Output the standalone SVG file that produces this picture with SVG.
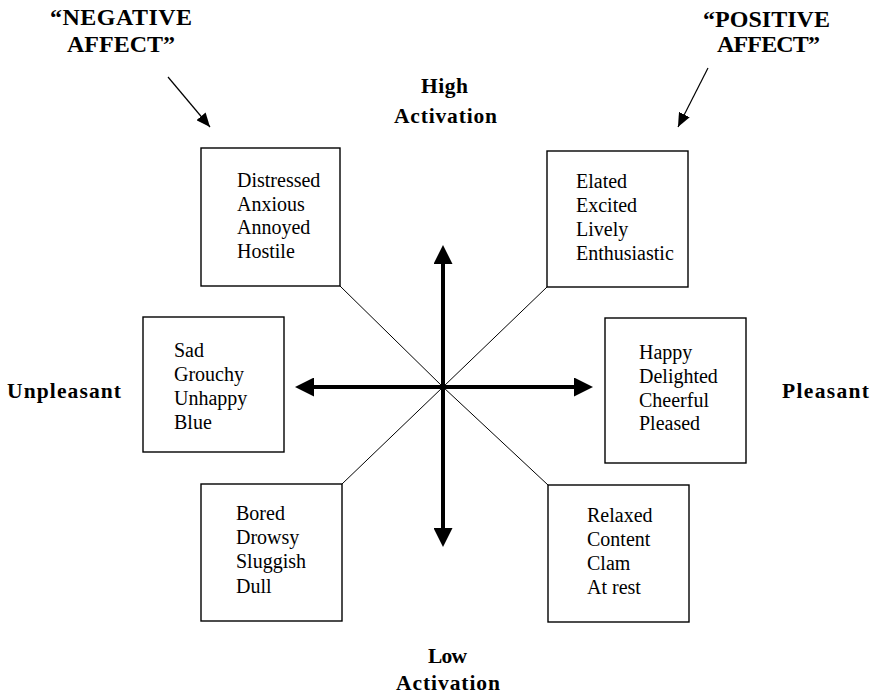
<svg xmlns="http://www.w3.org/2000/svg" width="878" height="698" viewBox="0 0 878 698">
<style>
.box{fill:#fff;stroke:#000;stroke-width:1.4}
.t{font-family:"Liberation Serif","Times New Roman",serif;font-size:20px;fill:#000}
.b{font-family:"Liberation Serif","Times New Roman",serif;font-size:21.5px;font-weight:bold;fill:#000}
.q{font-family:"Liberation Serif","Times New Roman",serif;font-size:24px;font-weight:bold;fill:#000}
.axis{stroke:#000;stroke-width:4;fill:none}
.diag{stroke:#000;stroke-width:1;fill:none}
.ptr{stroke:#000;stroke-width:1.2;fill:none}
</style>
<defs>
<marker id="big" viewBox="0 0 19 19" refX="0" refY="9.5" markerWidth="19" markerHeight="19" markerUnits="userSpaceOnUse" orient="auto">
<path d="M0,0 L19,9.5 L0,19 Z" fill="#000"/>
</marker>
<marker id="small" viewBox="0 0 14 12" refX="14" refY="6" markerWidth="14" markerHeight="12" markerUnits="userSpaceOnUse" orient="auto">
<path d="M0,0 L14,6 L0,12 Z" fill="#000"/>
</marker>
</defs>
<rect width="878" height="698" fill="#fff"/>

<g id="connectors">
<line class="diag" x1="340" y1="286" x2="443" y2="387"/>
<line class="diag" x1="547" y1="287" x2="443" y2="387"/>
<line class="diag" x1="342" y1="484" x2="443" y2="387"/>
<line class="diag" x1="548" y1="485" x2="443" y2="387"/>
<line class="axis" x1="443" y1="387" x2="443" y2="264" marker-end="url(#big)"/>
<line class="axis" x1="443" y1="387" x2="443" y2="528" marker-end="url(#big)"/>
<line class="axis" x1="443" y1="387" x2="314" y2="387" marker-end="url(#big)"/>
<line class="axis" x1="443" y1="387" x2="574" y2="387" marker-end="url(#big)"/>
<line class="ptr" x1="168" y1="77" x2="210" y2="127" marker-end="url(#small)"/>
<line class="ptr" x1="708" y1="68" x2="678" y2="127" marker-end="url(#small)"/>
</g>

<g id="negative-affect">
<text class="q" x="50" y="25" textLength="142" lengthAdjust="spacing">“NEGATIVE</text>
<text class="q" x="67" y="52" textLength="108" lengthAdjust="spacing">AFFECT”</text>
</g>
<g id="positive-affect">
<text class="q" x="703" y="27" textLength="127" lengthAdjust="spacing">“POSITIVE</text>
<text class="q" x="717" y="52" textLength="103" lengthAdjust="spacing">AFFECT”</text>
</g>
<g id="high-activation">
<text class="b" x="421" y="93" textLength="47" lengthAdjust="spacing">High</text>
<text class="b" x="394" y="123" textLength="103" lengthAdjust="spacing">Activation</text>
</g>
<g id="low-activation">
<text class="b" x="428" y="663" textLength="39" lengthAdjust="spacing">Low</text>
<text class="b" x="396" y="690" textLength="104" lengthAdjust="spacing">Activation</text>
</g>
<g id="unpleasant">
<text class="b" x="7" y="398" textLength="114" lengthAdjust="spacing">Unpleasant</text>
</g>
<g id="pleasant">
<text class="b" x="782" y="398" textLength="87" lengthAdjust="spacing">Pleasant</text>
</g>

<g id="box-distressed">
<rect class="box" x="201" y="148" width="139" height="138"/>
<text class="t" x="237" y="187">Distressed</text>
<text class="t" x="237" y="210.5">Anxious</text>
<text class="t" x="237" y="234">Annoyed</text>
<text class="t" x="237" y="257.5">Hostile</text>
</g>
<g id="box-elated">
<rect class="box" x="547" y="151" width="141" height="136"/>
<text class="t" x="576" y="188">Elated</text>
<text class="t" x="576" y="212">Excited</text>
<text class="t" x="576" y="236">Lively</text>
<text class="t" x="576" y="260">Enthusiastic</text>
</g>
<g id="box-sad">
<rect class="box" x="143" y="317" width="141" height="135"/>
<text class="t" x="174" y="357">Sad</text>
<text class="t" x="174" y="381">Grouchy</text>
<text class="t" x="174" y="405">Unhappy</text>
<text class="t" x="174" y="429">Blue</text>
</g>
<g id="box-happy">
<rect class="box" x="605" y="318" width="141" height="145"/>
<text class="t" x="639" y="359">Happy</text>
<text class="t" x="639" y="383">Delighted</text>
<text class="t" x="639" y="406.5">Cheerful</text>
<text class="t" x="639" y="430">Pleased</text>
</g>
<g id="box-bored">
<rect class="box" x="201" y="484" width="141" height="137"/>
<text class="t" x="236" y="520">Bored</text>
<text class="t" x="236" y="544">Drowsy</text>
<text class="t" x="236" y="568">Sluggish</text>
<text class="t" x="236" y="592.5">Dull</text>
</g>
<g id="box-relaxed">
<rect class="box" x="548" y="485" width="141" height="137"/>
<text class="t" x="587" y="521.5">Relaxed</text>
<text class="t" x="587" y="545.5">Content</text>
<text class="t" x="587" y="570">Clam</text>
<text class="t" x="587" y="594">At rest</text>
</g>
</svg>
